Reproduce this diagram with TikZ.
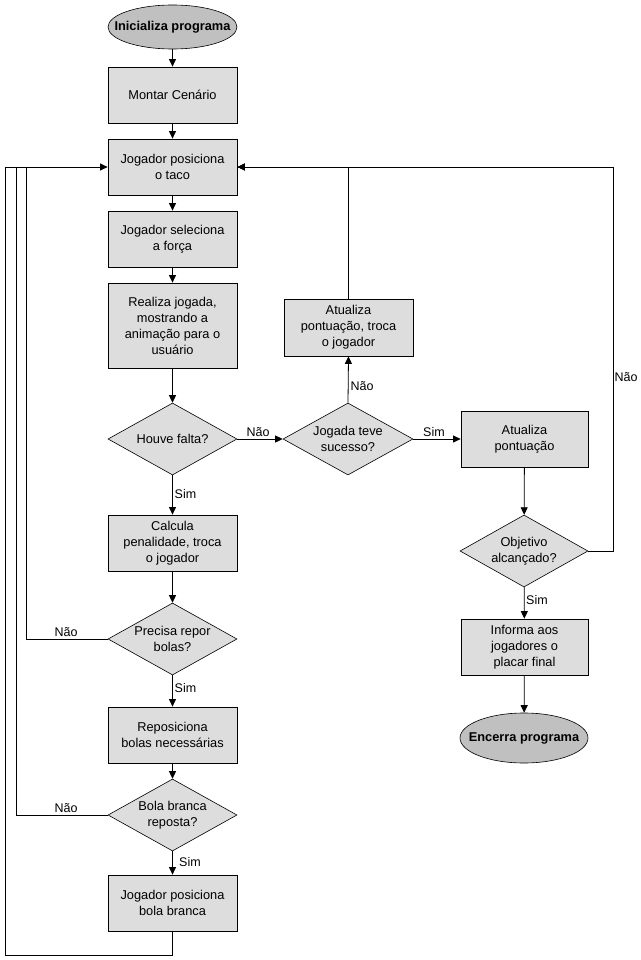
\documentclass[tikz,border=0pt]{standalone}
\usepackage{fontspec}
\setmainfont{Liberation Sans}
\usetikzlibrary{shapes.geometric,arrows.meta}
\definecolor{boxgray}{RGB}{221,221,221}
\definecolor{ellgray}{RGB}{192,192,192}
\newcommand{\zw}[1]{\makebox[0pt]{#1}}
\begin{document}
\begin{tikzpicture}[x=1pt,y=-1pt,
  font=\fontsize{12.8}{16}\selectfont,
  every node/.style={inner sep=0pt},
  proc/.style={draw=black,line width=0.8pt,fill=boxgray,rectangle,minimum width=129pt,minimum height=56pt,align=center},
  dec/.style={draw=black,line width=0.6pt,fill=boxgray,diamond,aspect=1.8,minimum width=129pt,minimum height=72pt,align=center},
  term/.style={draw=black,line width=0.6pt,fill=ellgray,ellipse,minimum width=129pt,minimum height=44pt,font=\fontsize{12.8}{15}\selectfont\bfseries},
  conn/.style={line width=0.8pt,-{Triangle[length=7.5pt,width=7pt]}},
  lnk/.style={line width=0.8pt},
  lbl/.style={font=\fontsize{12.5}{14}\selectfont}
]
\useasboundingbox (0,0) rectangle (640,960);
\node[term] (start) at (172.5,27) {\zw{Inicializa programa}};
\node[proc] (montar) at (172.5,95) {Montar Cenário};
\node[proc] (posic) at (172.5,167) {Jogador posiciona\\o taco};
\node[proc] (forca) at (172.5,239) {Jogador seleciona\\a força};
\node[proc,minimum height=85pt] (realiza) at (172.5,325.5) {Realiza jogada,\\mostrando a\\animação para o\\usuário};
\node[dec] (falta) at (172.5,439) {Houve falta?};
\node[proc] (calcula) at (172.5,543) {Calcula\\penalidade, troca\\o jogador};
\node[dec] (precisa) at (172.5,639) {Precisa repor\\bolas?};
\node[proc] (repos) at (172.5,735) {Reposiciona\\bolas necessárias};
\node[dec] (branca) at (172.5,815) {Bola branca\\reposta?};
\node[proc] (bolabr) at (172.5,903) {Jogador posiciona\\bola branca};
\node[dec,minimum width=130pt] (sucesso) at (348,439) {Jogada teve\\sucesso?};
\node[proc,minimum height=57pt] (atual1) at (348.5,327.5) {Atualiza\\pontuação, troca\\o jogador};
\node[proc,minimum width=127pt] (atual2) at (524.5,439) {Atualiza\\pontuação};
\node[dec,minimum width=128pt] (objetivo) at (524,551) {Objetivo\\alcançado?};
\node[proc,minimum width=127pt] (informa) at (524.5,647) {Informa aos\\jogadores o\\placar final};
\node[term,minimum width=128pt,minimum height=50pt] (fim) at (524,738) {\zw{Encerra programa}};

\coordinate (r1) at (613,551);
\coordinate (l1) at (5,167);
\coordinate (l2) at (16,167);
\coordinate (l3) at (26,167);
\coordinate (b1) at (172.5,955);

\draw[conn] (start) -- (montar);
\draw[conn] (montar) -- (posic);
\draw[conn] (posic) -- (forca);
\draw[conn] (forca) -- (realiza);
\draw[conn] (realiza) -- (falta);
\draw[conn] (falta) -- (calcula);
\draw[conn] (falta.east) -- (sucesso.west);
\draw[conn] (sucesso.north) -- (atual1.south);
\draw[conn] (sucesso.east) -- (atual2.west);
\draw[conn] (atual1.north) |- (posic.east);
\draw[conn] (atual2) -- (objetivo);
\draw[conn] (objetivo.east) -- (r1) |- (posic.east);
\draw[conn] (objetivo) -- (informa);
\draw[conn] (informa) -- (fim);
\draw[conn] (calcula) -- (precisa);
\draw[conn] (precisa) -- (repos);
\draw[conn] (repos) -- (branca);
\draw[conn] (branca) -- (bolabr);
\draw[lnk] (precisa.west) -| (l3);
\draw[lnk] (branca.west) -| (l2);
\draw[lnk] (bolabr.south) -- (b1) -| (l1);
\draw[conn] (l1) -- (posic.west);

\node[lbl] (n1) at (258,432) {Não};
\node[lbl,anchor=west] (s1) at (174.5,494) {Sim};
\node[lbl,anchor=west] (n2) at (350.5,386) {Não};
\node[lbl] (s2) at (434,432) {Sim};
\node[lbl,anchor=west] (n3) at (614.5,377) {Não};
\node[lbl,anchor=west] (s3) at (526,600) {Sim};
\node[lbl] (n4) at (66,632) {Não};
\node[lbl,anchor=west] (s4) at (174.5,688) {Sim};
\node[lbl] (n5) at (66,808) {Não};
\node[lbl,anchor=west] (s5) at (179,862) {Sim};
\end{tikzpicture}
\end{document}
